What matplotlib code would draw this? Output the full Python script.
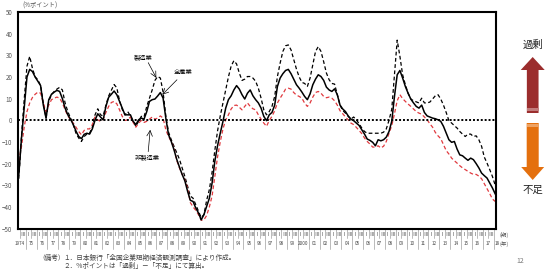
import numpy as np
import matplotlib
matplotlib.use("Agg")
import matplotlib.pyplot as plt
from matplotlib.patches import FancyArrow, Rectangle

plt.rcParams['font.family'] = ['Noto Sans CJK JP', 'DejaVu Sans']

# quarterly employment DI (%pt), 1974 Q2 .. 2018 Q1
first_year = 1974
first_q = 2

all_ind = [
    -25, -8, 6,
    20, 23.5, 22.5, 20,   18, 16, 7, 1,   9.5, 12, 13, 13.8,   13.3, 10, 5.6, 2.5,
    0.5, -2, -5, -7.5,   -8.5, -6.5, -6, -6.4,   -4, 0, 3, 1.5,   0.2, 6.4, 10.6, 12,
    13.5, 11.8, 8.7, 5.6,   2.5, 2.5, 2.5, -0.5,   -2, 0.2, 1, 0.5,   4, 8.7, 9.5, 9.8,
    11.2, 12.8, 10.2, 1,   -6.7, -9.8, -13.6, -18,   -21.6, -25, -28, -32.8,   -37, -37.5, -40.5, -42.8,
    -46, -43.6, -39.8, -36,   -29, -19, -11.8, -6,   -0.5, 5.6, 9.5, 11.3,   14, 16, 14.4, 11.8,
    9.8, 12.5, 14, 11.3,   9.5, 8, 5.6, 1.8,   -0.2, 2.5, 3.6, 7,   15.6, 19.5, 21.5, 23,
    23.5, 21.5, 19, 16.4,   14.8, 13, 11, 9.5,   12.2, 16.4, 19, 21,   20.2, 18.4, 15.3, 14,
    13.3, 14.5, 11.8, 7,   5.2, 4, 2, 0.5,   -0.2, -1.3, -2.4, -4.4,   -6.4, -8.7, -9.3, -10.2,
    -11.8, -9, -9.5, -9,   -7.8, -5.2, -0.5, 11,   21, 23, 19.5, 15.6,   12.5, 9.8, 8, 6.4,
    5.6, 7, 3.6, 2,   1.5, 1, 0.7, 0.2,   -0.5, -2.8, -5.9, -9,   -10.2, -9.8, -13.3, -16,
    -16.4, -17.5, -18.5, -17.5,   -18.2, -20, -22, -24.4,   -25.6, -26.7, -29, -31.3,
    -34,
]

mfg = [
    -27, -7, 10,
    25, 29.5, 24, 20,   18.7, 16, 8, 1,   8.7, 11.8, 13.3, 14.4,   15.2, 14, 8, 4,
    1, -2, -6, -8.2,   -9.8, -7.5, -6.4, -6,   -3.2, 2.5, 5.3, 2.5,   2, 7, 11.2, 13.8,
    16.5, 15, 9, 5,   2.5, 4, 2, -0.5,   -2.8, -0.5, 1.8, 1.5,   6.4, 10.2, 14, 18.4,
    20.2, 19.5, 13, 2,   -5.5, -9, -12, -15,   -18, -22, -26, -30.5,   -35, -36, -39, -42,
    -45, -43.6, -37, -32,   -24, -14, -5, 2,   8, 14, 20, 25,   27.5, 26, 21.8, 18.4,
    19, 20.2, 20.2, 19.5,   18, 14.8, 10.2, 4.8,   2.5, 4, 6.4, 11,   20.2, 26.4, 31.8, 34.4,
    34.8, 32.5, 28, 23.6,   20, 17.5, 17, 15.6,   19.5, 25.6, 31.8, 34,   31.8, 27, 21.8, 18.7,
    17, 16.7, 11.8, 7,   4.5, 3.3, 1.8, 0.5,   1.5, 0.2, -1.6, -3.6,   -5.2, -6, -6, -6,
    -6, -6, -6, -5.5,   -4, 0, 5, 21,   37, 29.5, 21, 16.4,   12.5, 9.8, 9, 8.5,
    8, 10.2, 8, 8,   8.4, 9.8, 11.3, 11.8,   9.8, 7, 3.6, -0.2,   -1.3, -2.5, -3.6, -5.2,
    -6.4, -7.5, -6.4, -6.4,   -7.5, -7.2, -9, -12,   -17, -19.8, -22.8, -26,
    -30,
]

non_mfg = [
    -19, -12, -3,
    4, 8, 10.5, 12,   13, 12.5, 8, 4,   7, 9.5, 10.2, 10.7,   10.2, 8, 4.8, 2,
    0.2, -1.3, -3.2, -5.2,   -6.7, -4.7, -4, -4,   -2, 1.5, 0.2, -0.5,   0.5, 3.6, 6.4, 8.2,
    8.7, 7.6, 4.8, 1.8,   -0.1, 0.2, 1.5, -1,   -3.2, -1.3, -0.1, -1,   -0.5, 0.5, 1.5, 0.5,
    1, 2, 1, -4.4,   -7.5, -9.8, -12.8, -18.5,   -22, -25, -27.5, -31.3,   -38, -40, -41.6, -43.6,
    -46.2, -46, -44, -40,   -35, -26, -17, -10,   -4, 0.2, 2.5, 5.2,   6.8, 7, 6, 4.8,
    6.4, 8, 6.4, 5.3,   4.8, 2.5, 0.5, -1.3,   -2.8, -0.1, 1.8, 4.4,   8, 10.2, 12.2, 14.4,
    14.8, 14.4, 12.8, 11.6,   11, 10.2, 7.9, 6.4,   8, 10.7, 12.8, 13.3,   12.5, 11, 10.4, 10.7,
    10.2, 9, 7, 4.4,   3, 1.5, 0.2, -1.3,   -2, -3.3, -4.7, -6.2,   -8.2, -9.8, -11, -12.4,
    -12.4, -11.8, -12.8, -12,   -9.8, -6, -2.5, 3,   9, 11.8, 10, 8.7,   7.5, 6.4, 5.2, 4,
    3.3, 2.8, 1.5, 0.2,   -1.6, -3.2, -5.6, -7.2,   -8.5, -11.3, -14, -15.6,   -17.5, -18.7, -19.8, -21,
    -22, -22.8, -23.6, -24.4,   -25, -25, -25.8, -27,   -29.3, -31.6, -33.9, -36.4,
    -37.5,
]

years = list(range(1974, 2019))
half_labels = ['Ⅰ', 'Ⅲ']

n = len(all_ind)
t = first_year + (np.arange(n) + first_q - 1 + 0.5) / 4

W, H = 550, 273
fig = plt.figure(figsize=(W / 100, H / 100), dpi=100)
ax = fig.add_axes([18 / W, 1 - 228.5 / H, 478 / W, 216.5 / H])

ax.plot(t, mfg, color='black', lw=0.9, ls=(0, (3, 2)))
ax.plot(t, non_mfg, color='#e0393e', lw=0.9, ls=(0, (3, 2)))
ax.plot(t, all_ind, color='black', lw=1.1)
ax.axhline(0, color='black', lw=1.4, ls=(0, (1, 1)))

ax.set_xlim(1974.3, 2018.2)
ax.set_ylim(-50, 50)
ax.set_yticks(range(-50, 51, 10))
ax.set_xticks([])
ax.tick_params(axis='y', length=0, pad=4, labelsize=4.5, labelcolor='#555555')
for s in ax.spines.values():
    s.set_linewidth(1.5)

# annotations
ax.text(1985.8, 29.3, '製造業', fontsize=4.5, ha='center', va='center')
ax.annotate('', xy=(1987.0, 19.6), xytext=(1986.26, 26.6),
            arrowprops=dict(arrowstyle='->', lw=0.5, color='black', shrinkA=0, shrinkB=0))
ax.text(1989.5, 22.4, '全産業', fontsize=4.5, ha='center', va='center')
ax.annotate('', xy=(1987.55, 11.8), xytext=(1988.9, 18.7),
            arrowprops=dict(arrowstyle='->', lw=0.5, color='black', shrinkA=0, shrinkB=0))
ax.text(1986.2, -16.9, '非製造業', fontsize=4.5, ha='center', va='center')
ax.annotate('', xy=(1986.44, -4.4), xytext=(1986.26, -14.5),
            arrowprops=dict(arrowstyle='->', lw=0.5, color='black', shrinkA=0, shrinkB=0))

# period / year rows under the axis
trans = ax.get_xaxis_transform()
x0, x1 = ax.get_xlim()
for yr in years:
    for h, lab in enumerate(half_labels):
        xc = yr + 0.25 + 0.5 * h
        if x0 < xc < x1:
            ax.text(xc, -0.027, lab, transform=trans, fontsize=3.5, ha='center',
                    va='center', color='#444444', clip_on=False)
    if x0 < yr + 0.5 < x1:
        ax.plot([yr + 0.5] * 2, [0, -0.045], transform=trans, color='#888888',
                lw=0.4, clip_on=False)
    if x0 < yr < x1:
        ax.plot([yr] * 2, [0, -0.095], transform=trans, color='#888888',
                lw=0.4, clip_on=False)
    lab = str(yr) if yr in (1974, 2000) else f'{yr % 100:02d}'
    xc = min(yr + 0.5, 2018.35)
    ax.text(xc, -0.07, lab, transform=trans, fontsize=3.3, ha='center',
            va='center', color='#444444', clip_on=False)

# overlay in pixel coordinates for the surrounding decorations
ov = fig.add_axes([0, 0, 1, 1])
ov.set_xlim(0, W)
ov.set_ylim(H, 0)
ov.axis('off')

ov.text(22, 6, '(%ポイント)', fontsize=4.5, color='#555555', va='center')
ov.text(500, 235, '(期)', fontsize=4, color='#555555', va='center')
ov.text(500, 244, '(年)', fontsize=4, color='#555555', va='center')

ov.add_patch(FancyArrow(532.7, 113, 0, -56, width=11.7, head_width=24, head_length=13,
                        length_includes_head=True, color='#9b2d2d', lw=0))
ov.add_patch(Rectangle((526.85, 108), 11.7, 2.5, color='#c27c7c', lw=0))
ov.add_patch(FancyArrow(532.7, 123, 0, 57, width=12, head_width=23, head_length=13,
                        length_includes_head=True, color='#e4700e', lw=0))
ov.add_patch(Rectangle((526.7, 124), 12, 2.5, color='#eea262', lw=0))
ov.text(532.7, 45, '過剰', fontsize=7.5, ha='center', va='center', color='#222222')
ov.text(533, 190, '不足', fontsize=7.5, ha='center', va='center', color='#222222')

ov.text(38, 258, '（備考）', fontsize=4.8, va='center', color='#444444')
ov.text(63, 258, '１．日本銀行「全国企業短期経済観測調査」により作成。', fontsize=4.8,
        va='center', color='#444444')
ov.text(63, 266, '２．%ポイントは「過剰」－「不足」にて算出。', fontsize=4.8,
        va='center', color='#444444')
ov.text(520, 261, '12', fontsize=5, ha='center', va='center', color='#777777')

fig.savefig('out.png', dpi=100)
